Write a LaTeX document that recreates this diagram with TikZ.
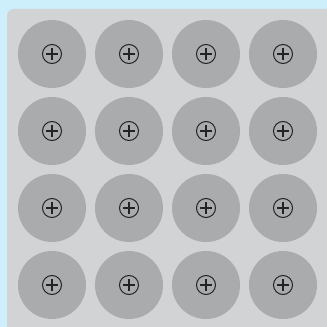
\documentclass[tikz,border=0pt]{standalone}
\usepackage{tikz}
\usetikzlibrary{positioning}
\definecolor{SkyBack}{RGB}{205, 238, 251}
\definecolor{PlateGray}{RGB}{210, 211, 213}
\definecolor{IonGray}{RGB}{170, 171, 173}
\definecolor{MarkDark}{RGB}{35, 35, 38}

\begin{document}
\begin{tikzpicture}[x=1pt, y=1pt,
    ion/.style={circle, fill=IonGray, minimum size=68pt, inner sep=0pt},
    charge/.style={circle, draw=MarkDark, line width=1pt, minimum size=19pt, inner sep=0pt}]
    % Background
    \fill[SkyBack] (0,0) rectangle (327,327);
    \useasboundingbox (0,0) rectangle (327,327);

    % Metal plate
    \fill[PlateGray, rounded corners=7pt] (7,-10) rectangle (340,318);

    % Positive ions
    \foreach \i in {0,...,3} {
      \foreach \j in {0,...,3} {
        \node[ion] (ion-\i-\j) at (52+77*\i, 273-77*\j) {};
        \node[charge] (pos-\i-\j) at (ion-\i-\j) {};
        \draw[MarkDark, line width=1.2pt] ([xshift=-6pt]pos-\i-\j.center) -- ([xshift=6pt]pos-\i-\j.center);
        \draw[MarkDark, line width=1.2pt] ([yshift=-6pt]pos-\i-\j.center) -- ([yshift=6pt]pos-\i-\j.center);
      }
    }
\end{tikzpicture}
\end{document}
